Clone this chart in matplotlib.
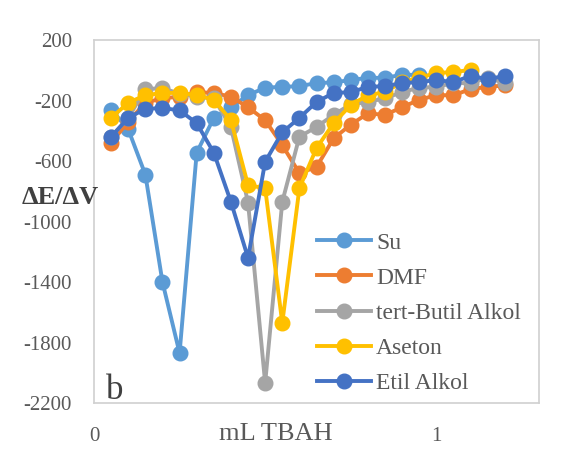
import matplotlib
matplotlib.use('Agg')
import matplotlib.pyplot as plt

plt.rcParams['font.family'] = ['Liberation Serif', 'DejaVu Serif']
plt.rcParams['axes.unicode_minus'] = False

# mL TBAH values (0.05 mL steps)
x_su = [0.05, 0.10, 0.15, 0.20, 0.25, 0.30, 0.35, 0.40, 0.45, 0.50,
        0.55, 0.60, 0.65, 0.70, 0.75, 0.80, 0.85, 0.90, 0.95]
x_long = [0.05, 0.10, 0.15, 0.20, 0.25, 0.30, 0.35, 0.40, 0.45, 0.50,
          0.55, 0.60, 0.65, 0.70, 0.75, 0.80, 0.85, 0.90, 0.95, 1.00,
          1.05, 1.10, 1.15, 1.20]
x_aseton = x_long[:22]

# dE/dV readings
su = [-260, -390, -690, -1400, -1870, -545, -315, -245, -165, -115,
      -110, -105, -85, -80, -65, -50, -50, -30, -30]
dmf = [-480, -340, -215, -185, -175, -145, -150, -175, -245, -330,
       -495, -680, -640, -450, -360, -285, -295, -245, -195, -165,
       -165, -125, -110, -100]
tert_butil = [-440, -315, -125, -118, -155, -175, -185, -375, -875, -2068,
              -870, -440, -375, -295, -225, -210, -185, -145, -115, -110,
              -85, -85, -50, -85]
aseton = [-315, -215, -165, -150, -150, -165, -195, -330, -760, -780,
          -1671, -780, -515, -350, -230, -165, -145, -78, -50, -18,
          -12, 2]
etil = [-440, -315, -255, -250, -265, -350, -545, -870, -1241, -605,
        -410, -315, -210, -150, -145, -110, -105, -85, -78, -65,
        -78, -38, -58, -38]

series = [
    (x_su, su, 'Su', '#5B9BD5'),
    (x_long, dmf, 'DMF', '#ED7D31'),
    (x_long, tert_butil, 'tert-Butil Alkol', '#A5A5A5'),
    (x_aseton, aseton, 'Aseton', '#FFC000'),
    (x_long, etil, 'Etil Alkol', '#4472C4'),
]

fig = plt.figure(figsize=(5.64, 4.51), dpi=100)
ax = fig.add_axes([94 / 564, 1 - 403 / 451, 445 / 564, 363 / 451])

for xs, ys, name, col in series:
    ax.plot(xs, ys, color=col, lw=2.8, marker='o', ms=10.5, label=name,
            clip_on=False)

ax.set_xlim(0, 1.3)
ax.set_ylim(-2200, 200)
ax.set_xticks([0, 1])
ax.set_yticks([200, -200, -600, -1000, -1400, -1800, -2200])
ax.tick_params(length=0, labelsize=15, colors='#595959')
ax.tick_params(axis='y', pad=16)
ax.tick_params(axis='x', pad=17)
for s in ax.spines.values():
    s.set_color('#D0D0D0')
    s.set_linewidth(1.2)

fig.text(276 / 564, 1 - 434 / 451, 'mL TBAH', ha='center', va='center',
         fontsize=19, color='#595959')
fig.text(60 / 564, 1 - 198 / 451, 'ΔE/ΔV', ha='center', va='center',
         fontsize=19, weight='bold', color='#404040')
fig.text(106 / 564, 1 - 399 / 451, 'b', ha='left', va='baseline',
         fontsize=25, color='#404040')

leg = ax.legend(loc='upper left', bbox_to_anchor=(317 / 564, 1 - 232 / 451),
                bbox_transform=fig.transFigure, frameon=False, fontsize=17,
                handlelength=2.3, handletextpad=0.2, labelspacing=0.58,
                borderpad=0, borderaxespad=0)
for t in leg.get_texts():
    t.set_color('#595959')

fig.savefig('out.png', dpi=100)
